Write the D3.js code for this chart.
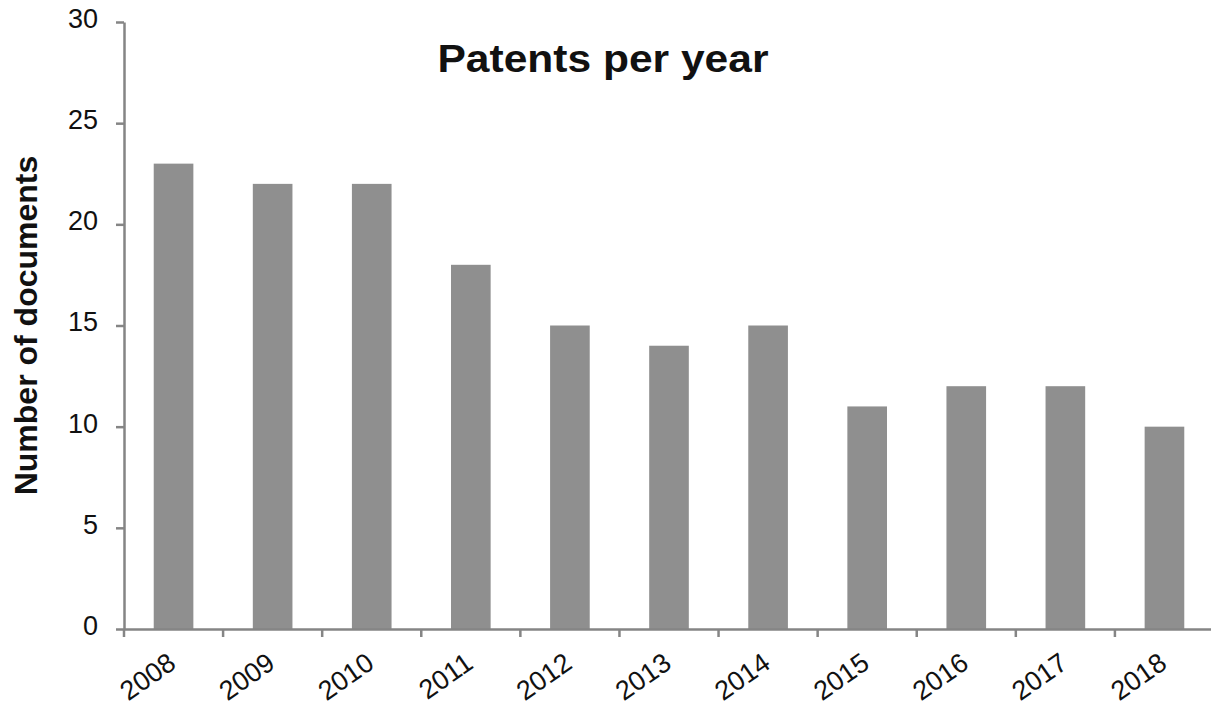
<!DOCTYPE html>
<html>
<head>
<meta charset="utf-8">
<script src="https://cdn.jsdelivr.net/npm/d3@7"></script>
<style>
  body { margin: 0; background: #fff; }
  text { font-family: "Liberation Sans", Arial, sans-serif; }
</style>
</head>
<body>
<script>
const years = ["2008", "2009", "2010", "2011", "2012", "2013", "2014", "2015", "2016", "2017", "2018"];
const patents = [23, 22, 22, 18, 15, 14, 15, 11, 12, 12, 10];
const yTicks = [0, 5, 10, 15, 20, 25, 30];

const width = 1211;
const height = 708;
const margin = { top: 22, right: -3, bottom: 79, left: 124 };
const axisColor = "#858585";
const barColor = "#8f8f8f";

const svg = d3.select("body")
  .append("svg")
  .attr("width", width)
  .attr("height", height);

const x = d3.scaleBand()
  .domain(years)
  .range([margin.left, width - margin.right])
  .paddingInner(0.6)
  .paddingOuter(0.3);

const y = d3.scaleLinear()
  .domain([0, 30])
  .range([height - margin.bottom, margin.top]);

// bars
svg.append("g")
  .selectAll("rect")
  .data(patents)
  .join("rect")
  .attr("x", (d, i) => x(years[i]))
  .attr("y", d => y(d))
  .attr("width", x.bandwidth())
  .attr("height", d => y(0) - y(d))
  .attr("fill", barColor);

// y axis
const yAxis = svg.append("g")
  .attr("transform", `translate(${margin.left},0)`)
  .call(d3.axisLeft(y).tickValues(yTicks).tickSize(8).tickSizeOuter(0).tickPadding(18));

yAxis.select(".domain").attr("stroke", axisColor).attr("stroke-width", 2.5);
yAxis.selectAll(".tick line").attr("stroke", axisColor).attr("stroke-width", 2.5);
yAxis.selectAll(".tick text")
  .attr("font-size", 27)
  .attr("fill", "#111")
  .attr("dy", "0.2em")
  .attr("font-family", "Liberation Sans, Arial, sans-serif");

// x axis
const xAxis = svg.append("g")
  .attr("transform", `translate(0,${y(0)})`)
  .call(d3.axisBottom(x).tickSize(0).tickSizeOuter(0).tickPadding(0));

xAxis.select(".domain").attr("stroke", axisColor).attr("stroke-width", 2.5);

// ticks sit on the boundaries between categories
xAxis.selectAll(".bound")
  .data(years)
  .join("line")
  .attr("class", "bound")
  .attr("x1", d => x(d) - (x.step() - x.bandwidth()) / 2)
  .attr("x2", d => x(d) - (x.step() - x.bandwidth()) / 2)
  .attr("y1", 0)
  .attr("y2", 8)
  .attr("stroke", axisColor)
  .attr("stroke-width", 2.5);

xAxis.selectAll(".tick text")
  .attr("font-size", 27)
  .attr("fill", "#111")
  .attr("font-family", "Liberation Sans, Arial, sans-serif")
  .attr("text-anchor", "end")
  .attr("y", 0)
  .attr("dy", 0)
  .attr("transform", "translate(4,38) rotate(-35)");

// title
svg.append("text")
  .attr("x", 603)
  .attr("y", 72)
  .attr("text-anchor", "middle")
  .attr("font-size", 39)
  .attr("font-weight", "bold")
  .attr("fill", "#111")
  .attr("textLength", 331)
  .attr("lengthAdjust", "spacingAndGlyphs")
  .text("Patents per year");

// y label
svg.append("text")
  .attr("transform", `translate(37,${(y(0) + y(30)) / 2}) rotate(-90)`)
  .attr("text-anchor", "middle")
  .attr("font-size", 32)
  .attr("font-weight", "bold")
  .attr("fill", "#111")
  .text("Number of documents");
</script>
</body>
</html>
